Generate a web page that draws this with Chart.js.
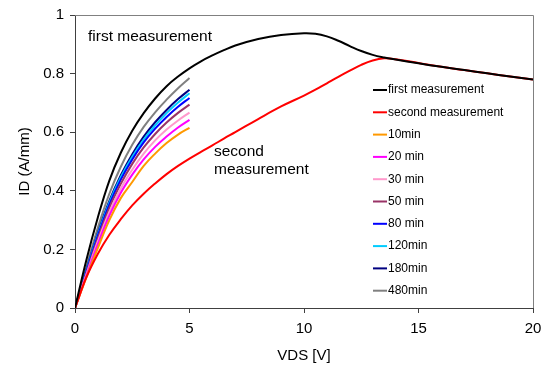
<!DOCTYPE html>
<html>
<head>
<meta charset="utf-8">
<script src="https://cdn.jsdelivr.net/npm/chart.js@4"></script>
<style>
  body { margin: 0; background: #fff; }
  canvas { display: block; }
</style>
</head>
<body>
<canvas id="ivChart" width="553" height="369"></canvas>
<script>
// VDS values (V)
const vdsFull = [0, 0.5, 1, 1.5, 2, 2.5, 3, 3.5, 4, 4.5, 5, 5.5, 6, 6.5, 7, 8, 9, 10, 10.5, 11, 11.5, 12, 12.5, 13, 13.5, 14, 15, 16, 17, 18, 19, 20];
const vdsShort = [0, 0.5, 1, 1.5, 2, 2.5, 3, 3.5, 4, 4.5, 5];

// ID values (A/mm)
const firstMeas  = [0, 0.165, 0.31, 0.435, 0.53, 0.605, 0.665, 0.715, 0.757, 0.79, 0.818, 0.842, 0.862, 0.88, 0.896, 0.918, 0.932, 0.938, 0.936, 0.927, 0.912, 0.894, 0.877, 0.864, 0.855, 0.848, 0.835, 0.823, 0.812, 0.801, 0.79, 0.78];
const secondMeas = [0, 0.105, 0.185, 0.25, 0.303, 0.35, 0.39, 0.425, 0.457, 0.485, 0.51, 0.533, 0.555, 0.578, 0.6, 0.645, 0.688, 0.725, 0.745, 0.767, 0.789, 0.81, 0.83, 0.845, 0.852, 0.849, 0.836, 0.823, 0.812, 0.801, 0.79, 0.78];
const min10  = [0, 0.105, 0.205, 0.30, 0.375, 0.43, 0.485, 0.527, 0.563, 0.592, 0.615];
const min20  = [0, 0.11, 0.218, 0.315, 0.393, 0.455, 0.507, 0.55, 0.585, 0.616, 0.642];
const min30  = [0, 0.115, 0.228, 0.328, 0.408, 0.472, 0.527, 0.572, 0.609, 0.64, 0.667];
const min50  = [0, 0.12, 0.238, 0.342, 0.424, 0.492, 0.548, 0.594, 0.633, 0.666, 0.694];
const min80  = [0, 0.125, 0.247, 0.353, 0.438, 0.507, 0.565, 0.612, 0.652, 0.687, 0.717];
const min120 = [0, 0.128, 0.252, 0.36, 0.446, 0.516, 0.575, 0.623, 0.665, 0.701, 0.733];
const min180 = [0, 0.131, 0.257, 0.366, 0.453, 0.525, 0.585, 0.634, 0.676, 0.713, 0.745];
const min480 = [0, 0.14, 0.275, 0.39, 0.482, 0.557, 0.618, 0.668, 0.711, 0.75, 0.785];

const xTicks = [0, 5, 10, 15, 20];
const yTicks = [0, 0.2, 0.4, 0.6, 0.8, 1];

const toPts = (xs, ys) => xs.map((x, i) => ({ x: x, y: ys[i] }));

function series(label, xs, ys, color) {
  return {
    label: label,
    data: toPts(xs, ys),
    borderColor: color,
    backgroundColor: color,
    borderWidth: 2,
    pointRadius: 0,
    fill: false,
    tension: 0.4
  };
}

const datasets = [
  series('first measurement', vdsFull, firstMeas, '#000000'),
  series('second measurement', vdsFull, secondMeas, '#ff0000'),
  series('10min', vdsShort, min10, '#ff9900'),
  series('20 min', vdsShort, min20, '#ff00ff'),
  series('30 min', vdsShort, min30, '#ff99cc'),
  series('50 min', vdsShort, min50, '#993366'),
  series('80 min', vdsShort, min80, '#0000ff'),
  series('120min', vdsShort, min120, '#00ccff'),
  series('180min', vdsShort, min180, '#000080'),
  series('480min', vdsShort, min480, '#808080')
];

const FONT = '"Liberation Sans", Arial, sans-serif';

// frame on top/right, legend inside plot, text annotations
const extras = {
  id: 'extras',
  afterDatasetsDraw(chart) {
    const ctx = chart.ctx;
    const a = chart.chartArea;
    ctx.save();
    ctx.strokeStyle = '#808080';
    ctx.lineWidth = 1;
    ctx.beginPath();
    ctx.moveTo(a.left, a.top + 0.5);
    ctx.lineTo(a.right + 0.5, a.top + 0.5);
    ctx.lineTo(a.right + 0.5, a.bottom);
    ctx.stroke();

    // legend
    ctx.font = '12px ' + FONT;
    ctx.textBaseline = 'middle';
    ctx.textAlign = 'left';
    chart.data.datasets.forEach((ds, i) => {
      const y = 90 + i * 22.3;
      ctx.strokeStyle = ds.borderColor;
      ctx.lineWidth = 2;
      ctx.beginPath();
      ctx.moveTo(373, y);
      ctx.lineTo(387, y);
      ctx.stroke();
      ctx.fillStyle = '#000';
      ctx.fillText(ds.label, 388, y);
    });

    // annotations
    ctx.font = '15.5px ' + FONT;
    ctx.fillText('first measurement', 88, 37);
    ctx.fillText('second', 214, 152);
    ctx.fillText('measurement', 214, 170);
    ctx.restore();
  }
};

const tickFont = { family: FONT, size: 15 };

new Chart(document.getElementById('ivChart').getContext('2d'), {
  type: 'line',
  data: { datasets: datasets },
  options: {
    responsive: false,
    animation: false,
    layout: { padding: { top: 11, right: 20, left: 12, bottom: 0 } },
    plugins: {
      legend: { display: false },
      tooltip: { enabled: false }
    },
    scales: {
      x: {
        type: 'linear',
        min: 0,
        max: 20,
        afterBuildTicks: s => { s.ticks = xTicks.map(v => ({ value: v })); },
        ticks: { color: '#000', font: tickFont, padding: 7, maxRotation: 0 },
        grid: { display: true, drawOnChartArea: false, drawTicks: true, tickLength: 5, color: '#404040' },
        border: { color: '#404040', width: 1 },
        title: { display: true, text: 'VDS [V]', color: '#000', font: tickFont, padding: { top: 3 } },
        afterFit: s => { s.height = 61; }
      },
      y: {
        min: 0,
        max: 1,
        afterBuildTicks: s => { s.ticks = yTicks.map(v => ({ value: v })); },
        ticks: { color: '#000', font: tickFont, padding: 6, callback: v => String(v) },
        grid: { display: true, drawOnChartArea: false, drawTicks: true, tickLength: 5, color: '#404040' },
        border: { color: '#404040', width: 1 },
        title: { display: true, text: 'ID (A/mm)', color: '#000', font: tickFont, padding: { bottom: 4 } },
        afterFit: s => { s.width = 63; }
      }
    }
  },
  plugins: [extras]
});
</script>
</body>
</html>
